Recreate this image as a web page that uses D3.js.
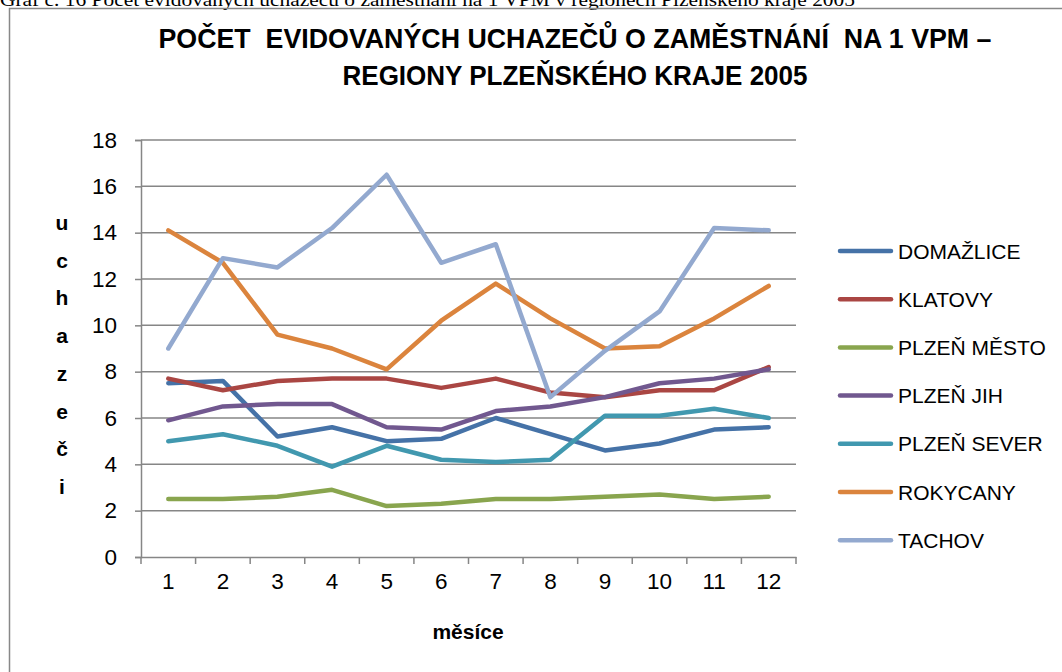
<!DOCTYPE html>
<html><head><meta charset="utf-8">
<script src="https://cdn.jsdelivr.net/npm/d3@7/dist/d3.min.js"></script>
<style>
html,body{margin:0;padding:0;background:#fff;overflow:hidden;}
svg{display:block;}
text{white-space:pre;}
</style></head>
<body>
<svg id="chart" width="1062" height="672"></svg>
<script>
const months = ["1","2","3","4","5","6","7","8","9","10","11","12"];
const seriesNames = ["DOMAŽLICE","KLATOVY","PLZEŇ MĚSTO","PLZEŇ JIH","PLZEŇ SEVER","ROKYCANY","TACHOV"];
const domazlice  = [7.5,7.6,5.2,5.6,5.0,5.1,6.0,5.3,4.6,4.9,5.5,5.6];
const klatovy    = [7.7,7.2,7.6,7.7,7.7,7.3,7.7,7.1,6.9,7.2,7.2,8.2];
const plzenMesto = [2.5,2.5,2.6,2.9,2.2,2.3,2.5,2.5,2.6,2.7,2.5,2.6];
const plzenJih   = [5.9,6.5,6.6,6.6,5.6,5.5,6.3,6.5,6.9,7.5,7.7,8.1];
const plzenSever = [5.0,5.3,4.8,3.9,4.8,4.2,4.1,4.2,6.1,6.1,6.4,6.0];
const rokycany   = [14.1,12.7,9.6,9.0,8.1,10.2,11.8,10.3,9.0,9.1,10.3,11.7];
const tachov     = [9.0,12.9,12.5,14.2,16.5,12.7,13.5,6.9,8.9,10.6,14.2,14.1];
const yTicks = [0,2,4,6,8,10,12,14,16,18];
const colors = ["#4572A7","#AA4643","#89A54E","#71588F","#4198AF","#DB843D","#93A9CF"];
const captionText = "Graf č. 16 Počet evidovaných uchazečů o zaměstnání na 1 VPM v regionech Plzeňského kraje 2005";
const titleLines = ["POČET  EVIDOVANÝCH UCHAZEČŮ O ZAMĚSTNÁNÍ  NA 1 VPM –","REGIONY PLZEŇSKÉHO KRAJE 2005"];
const yTitle = "uchazeči";
const xTitle = "měsíce";

const allValues = [domazlice,klatovy,plzenMesto,plzenJih,plzenSever,rokycany,tachov];
const data = seriesNames.map((n,i)=>({name:n,color:colors[i],values:allValues[i]}));

const svg = d3.select("#chart");
const grid = "#868686";
const font = "'Liberation Sans', Arial, sans-serif";

// caption (partially cut off at top, as in the source)
svg.append("text").attr("x",0).attr("y",6)
  .attr("font-family","'Liberation Serif', 'Times New Roman', serif")
  .attr("font-size",19).attr("fill","#000")
  .attr("textLength",855).attr("lengthAdjust","spacingAndGlyphs")
  .text(captionText);

// frame
svg.append("rect").attr("x",9.5).attr("y",8.5).attr("width",1100).attr("height",700)
  .attr("fill","none").attr("stroke","#888").attr("stroke-width",1.5);

// title
const titleLens = [833,465];
titleLines.forEach((t,i)=>{
  svg.append("text").attr("x",575).attr("y",48+i*37)
    .attr("text-anchor","middle").attr("font-family",font).attr("font-weight","bold")
    .attr("font-size",27).attr("fill","#000")
    .attr("textLength",titleLens[i]).attr("lengthAdjust","spacingAndGlyphs")
    .text(t);
});

const x0 = 141, x1 = 796, yTop = 140, yBot = 557;
const x = d3.scaleBand().domain(months).range([x0,x1]);
const y = d3.scaleLinear().domain([0,18]).range([yBot,yTop]);

// gridlines
svg.append("g").selectAll("line").data(yTicks.filter(d=>d>0)).join("line")
  .attr("x1",x0).attr("x2",x1).attr("y1",d=>y(d)).attr("y2",d=>y(d))
  .attr("stroke",grid).attr("stroke-width",1.5);

// y axis
const yAxis = svg.append("g").attr("transform",`translate(${x0},0)`)
  .call(d3.axisLeft(y).tickValues(yTicks).tickSize(6).tickPadding(18));
yAxis.select(".domain").attr("stroke",grid).attr("stroke-width",1.5);
yAxis.selectAll(".tick line").attr("stroke",grid).attr("stroke-width",1.5);
yAxis.selectAll(".tick text").attr("font-family",font).attr("font-size",22.5).attr("fill","#000");

// x axis
const xAxis = svg.append("g").attr("transform",`translate(0,${yBot})`)
  .call(d3.axisBottom(x).tickSize(0).tickPadding(16));
xAxis.select(".domain").attr("stroke",grid).attr("stroke-width",1.5);
xAxis.selectAll(".tick text").attr("font-family",font).attr("font-size",22.5).attr("fill","#000");
// category boundary ticks
const bounds = months.map(m=>x(m)).concat([x1]);
svg.append("g").selectAll("line").data(bounds).join("line")
  .attr("x1",d=>d).attr("x2",d=>d).attr("y1",yBot).attr("y2",yBot+7)
  .attr("stroke",grid).attr("stroke-width",1.5);

// y title stacked letters
svg.append("g").selectAll("text").data(Array.from(yTitle)).join("text")
  .attr("x",62).attr("y",(d,i)=>230+i*37.7)
  .attr("text-anchor","middle").attr("font-family",font).attr("font-weight","bold")
  .attr("font-size",21).attr("fill","#000").text(d=>d);

// x title
svg.append("text").attr("x",468).attr("y",639).attr("text-anchor","middle")
  .attr("font-family",font).attr("font-weight","bold").attr("font-size",21).attr("fill","#000")
  .text(xTitle);

// lines
const line = d3.line().x((d,i)=>x(months[i])+x.bandwidth()/2).y(d=>y(d));
svg.append("g").selectAll("path").data(data).join("path")
  .attr("d",d=>line(d.values)).attr("fill","none").attr("stroke",d=>d.color)
  .attr("stroke-width",4.5).attr("stroke-linejoin","round").attr("stroke-linecap","round");

// legend
const leg = svg.append("g").selectAll("g").data(data).join("g")
  .attr("transform",(d,i)=>`translate(838,${251+i*48.2})`);
leg.append("line").attr("x1",2).attr("x2",53).attr("y1",0).attr("y2",0)
  .attr("stroke",d=>d.color).attr("stroke-width",4.5).attr("stroke-linecap","round");
leg.append("text").attr("x",60).attr("y",7.5).attr("font-family",font).attr("font-size",21)
  .attr("fill","#000").text(d=>d.name);
</script>
</body></html>
